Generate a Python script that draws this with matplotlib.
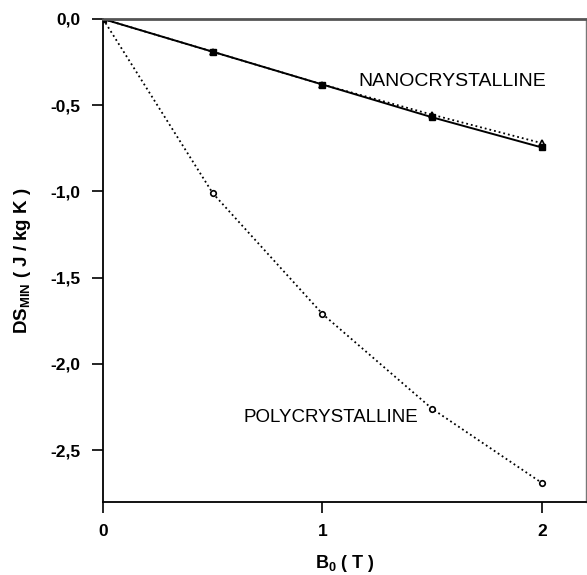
import numpy as np
import matplotlib.pyplot as plt

plt.rcParams['font.family'] = ['Liberation Sans', 'DejaVu Sans']

# Campo aplicado y cambio de entropia minimo
b0 = [0, 0.5, 1, 1.5, 2]
poly = [0, -1.01, -1.71, -2.26, -2.69]
nano_a = [0, -0.19, -0.38, -0.57, -0.745]
nano_b = [0, -0.19, -0.38, -0.555, -0.72]

yticks = [0, -0.5, -1.0, -1.5, -2.0, -2.5]
xticks = [0, 1, 2]

fig = plt.figure(figsize=(5.87, 5.75), dpi=100)
ax = fig.add_axes([0.1755, 0.127, 0.8225, 0.84])

ax.plot(b0, poly, ':', color='black', lw=1.3, marker='o', ms=4,
        mfc='white', mec='black', mew=1.2)
ax.plot(b0, nano_b, ':', color='black', lw=1.3, marker='^', ms=5,
        mfc='white', mec='black', mew=1.2)
ax.plot(b0, nano_a, '-', color='black', lw=1.4, marker='s', ms=4,
        mfc='black', mec='black')

ax.text(1.165, -0.36, 'NANOCRYSTALLINE', fontsize=14, va='center')
ax.text(0.64, -2.31, 'POLYCRYSTALLINE', fontsize=13.5, va='center')

ax.set_xlim(0, 2.2)
ax.set_ylim(-2.8, 0)
ax.set_xticks(xticks)
ax.set_xticklabels([str(t) for t in xticks], fontweight='bold')
ax.set_yticks(yticks)
ax.set_yticklabels([f'{t:.1f}'.replace('.', ',') for t in yticks],
                   fontweight='bold')
ax.tick_params(labelsize=12.5, length=8, width=1.2, direction='out', pad=8)

for s in ['left', 'bottom']:
    ax.spines[s].set_linewidth(1.3)
ax.spines['top'].set_color('#555555')
ax.spines['top'].set_linewidth(2)
ax.spines['right'].set_color('#777777')
ax.spines['right'].set_linewidth(1)

ax.set_xlabel(r'B$_{\mathregular{0}}$ ( T )', fontsize=13, fontweight='bold',
              labelpad=10)
ax.set_ylabel(r'DS$_{\mathregular{MIN}}$ ( J / kg K )', fontsize=13.5,
              fontweight='bold', labelpad=13)

fig.savefig('out.png', dpi=100)
